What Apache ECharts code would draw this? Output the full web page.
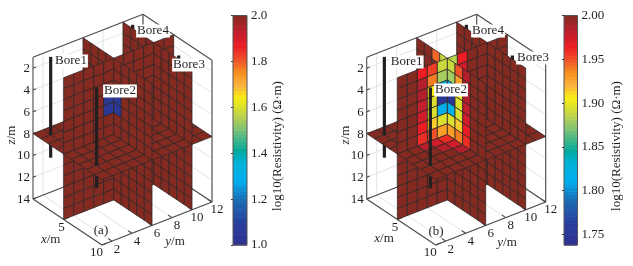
<!DOCTYPE html>
<html><head><meta charset="utf-8">
<style>html,body{margin:0;padding:0;background:#fff}#c{width:633px;height:266px}</style>
<script src="https://cdn.jsdelivr.net/npm/echarts@6/dist/echarts.min.js"></script>
</head><body><div id="c"></div>
<script>
// ---------- data ----------
const zTicks = [2,4,6,8,10,12,14];
const xTicks = [5,10];
const yTicks = [2,4,6,8,10,12];
const xRange = [1,10], yRange = [1,12], zRange = [1,14];
const sliceX = [5], sliceY = [6,10], sliceZ = [8];
const background = 2.0;
const boreNames = ['Bore1','Bore2','Bore3','Bore4'];
const boreXY = [[2,2],[8,2],[8,10.2],[2,10.2]];
const boreDepth = [0.85,10.1];
// anomaly cells: [cell along wall, depth row, log10 resistivity]
const aWallX5 = [[5,4,1.05],[5,5,1.05]];
const aWallY6 = [[5,4,1.05],[5,5,1.05]];
const aPlaneZ8 = [];
const bWallX5 = [[6,1,1.885],[7,1,1.965],[6,2,1.9],[7,2,1.975],
  [5,1,1.89],[5,2,1.88],[5,3,1.82],[5,4,1.75],[5,5,1.82],[5,6,1.895],[5,7,1.93],
  [4,1,1.955],[4,2,1.94],[4,3,1.905],[4,4,1.895],[4,5,1.895],[4,6,1.915],[4,7,1.95],
  [3,1,1.965],[3,2,1.985],[3,3,1.985],[3,4,1.98],[3,5,1.975],[3,6,1.965],[3,7,1.96]];
const bWallY6 = [[4,1,1.89],[3,1,1.945],[4,2,1.9],
  [5,1,1.89],[5,2,1.88],[5,3,1.82],[5,4,1.75],[5,5,1.82],[5,6,1.895],[5,7,1.93],
  [6,1,1.95],[6,2,1.93],[6,3,1.905],[6,4,1.895],[6,5,1.895],[6,6,1.915],[6,7,1.94],
  [7,1,1.985],[7,2,1.985],[7,3,1.985],[7,4,1.98],[7,5,1.975],[7,6,1.965],[7,7,1.96]];
const bPlaneZ8 = [[5,5,1.96],[4,5,1.975],[5,4,1.975],[6,5,1.975],[5,3,1.985],[6,4,1.985],[3,5,1.985],[7,5,1.985],[4,4,1.985]];
const aColorbarTicks = [1.0,1.2,1.4,1.6,1.8,2.0];
const bColorbarTicks = [1.75,1.80,1.85,1.90,1.95,2.00];
const aColorRange = [1.0,2.0];
const bColorRange = [1.738,2.0];

// ---------- style & layout ----------
const FONT = '"Liberation Serif","Times New Roman",serif';
const FS = 13;
const stops = [[0,'#2e3192'],[.1,'#283f9e'],[.2,'#1c6fb6'],[.28,'#00aeef'],[.36,'#00b1d8'],[.41,'#00a99d'],
 [.49,'#6abd7c'],[.55,'#aecf5a'],[.6,'#dbe02c'],[.645,'#f9ec14'],[.7,'#fbb040'],[.75,'#f7941d'],[.8,'#f15a29'],
 [.866,'#ed1c24'],[.93,'#be1e2d'],[1,'#842a20']];
function rgb(h){return [1,3,5].map(i=>parseInt(h.substr(i,2),16));}
function cmap(t){t=Math.max(0,Math.min(1,t));
  for(let i=1;i<stops.length;i++){ if(t<=stops[i][0]){const a=stops[i-1],b=stops[i],f=(t-a[0])/(b[0]-a[0]);
    const A=rgb(a[1]),B=rgb(b[1]);return 'rgb('+A.map((v,k)=>Math.round(v+(B[k]-v)*f)).join(',')+')';}}
  return stops[stops.length-1][1];}
const EX=[69/9,46/9],EY=[110/11,-43/11],EZ=[0,10.9];
const panels=[
 {origin:[33,199],range:aColorRange,x5:aWallX5,y6:aWallY6,z8:aPlaneZ8,
  bore:[[71,61],[120,91],[189,65],[153,31]],tag:['(a)',101,231],zName:[11.5,135],xName:[50.7,240],yName:[175,242]},
 {origin:[366.7,199],range:bColorRange,x5:bWallX5,y6:bWallY6,z8:bPlaneZ8,
  bore:[[406.7,62],[451,90],[533,58],[488,31]],tag:['(b)',436,232],zName:[346,135],xName:[384,239],yName:[507,243]}];
function proj(p,x,y,z){return [p.origin[0]+(x-1)*EX[0]+(y-1)*EY[0]+(z-14)*EZ[0],
                               p.origin[1]+(x-1)*EX[1]+(y-1)*EY[1]+(z-14)*EZ[1]];}
function lookup(list,a,b){const h=list.find(c=>c[0]===a&&c[1]===b);return h?h[2]:background;}
function digit(v,c,frontIsGreater){return v===c?1:((v>c)===frontIsGreater?2:0);}
function sortKey(x,y,z){return ''+digit(x,sliceX[0],true)+digit(z,sliceZ[0],false)+digit(y,sliceY[0],false)+digit(y,sliceY[1],false);}

function buildItems(p){
  const under=[],solid=[],over=[];
  const [x0,x1]=xRange,[y0,y1]=yRange,[z0,z1]=zRange;
  const grid=(a,b)=>under.push({t:'line',a,b,c:'#e4e4e4',w:1});
  zTicks.forEach(z=>{grid([x0,y0,z],[x0,y1,z]);grid([x0,y1,z],[x1,y1,z]);});
  xTicks.forEach(x=>{grid([x,y0,z1],[x,y1,z1]);grid([x,y1,z1],[x,y1,z0]);});
  yTicks.forEach(y=>{grid([x0,y,z1],[x1,y,z1]);grid([x0,y,z1],[x0,y,z0]);});
  const box=(a,b)=>under.push({t:'line',a,b,c:'#4a4a4a',w:1.1});
  box([x0,y0,z1],[x1,y0,z1]);box([x1,y0,z1],[x1,y1,z1]);box([x0,y0,z1],[x0,y1,z1]);box([x0,y1,z1],[x1,y1,z1]);
  box([x0,y0,z0],[x0,y1,z0]);box([x0,y1,z0],[x1,y1,z0]);box([x0,y0,z0],[x0,y0,z1]);box([x1,y1,z0],[x1,y1,z1]);box([x0,y1,z0],[x0,y1,z1]);
  zTicks.forEach(z=>box([x0,y0,z],[x0,y0+.3,z]));
  xTicks.forEach(x=>box([x,y0,z1],[x,y0+.5,z1]));
  yTicks.forEach(y=>box([x1,y,z1],[x1-.5,y,z1]));
  // walls
  const cell=(corners,c,v)=>solid.push({t:'cell',corners,v,key:sortKey(c[0],c[1],c[2])});
  for(let y=y0;y<y1;y++)for(let z=z0;z<z1;z++)
    cell([[5,y,z],[5,y+1,z],[5,y+1,z+1],[5,y,z+1]],[5,y+.5,z+.5],lookup(p.x5,y,z));
  for(let x=x0;x<x1;x++)for(let z=z0;z<z1;z++){
    cell([[x,6,z],[x+1,6,z],[x+1,6,z+1],[x,6,z+1]],[x+.5,6,z+.5],lookup(p.y6,x,z));
    cell([[x,10,z],[x+1,10,z],[x+1,10,z+1],[x,10,z+1]],[x+.5,10,z+.5],background);
  }
  for(let x=x0;x<x1;x++)for(let y=y0;y<y1;y++)
    cell([[x,y,8],[x+1,y,8],[x+1,y+1,8],[x,y+1,8]],[x+.5,y+.5,8],lookup(p.z8,x,y));
  // bores (split where they pass the z-slice)
  boreXY.forEach(([x,y])=>{
    solid.push({t:'bore',a:[x,y,boreDepth[0]],b:[x,y,8],key:sortKey(x,y,4)});
    solid.push({t:'bore',a:[x,y,8],b:[x,y,boreDepth[1]],key:sortKey(x,y,9)});
  });
  solid.sort((a,b)=>a.key<b.key?-1:a.key>b.key?1:0);
  // text
  zTicks.forEach(z=>{const q=proj(p,x0,y0,z);over.push({t:'text',s:String(z),px:[q[0]-3,q[1]+.5],align:'right'});});
  xTicks.forEach(x=>{const q=proj(p,x,y0,z1);over.push({t:'text',s:String(x),px:[q[0]+1,q[1]+8],align:'right'});});
  yTicks.forEach(y=>{const q=proj(p,x1,y,z1);over.push({t:'text',s:String(y),px:[q[0]+5,q[1]+8],align:'center'});});
  boreNames.forEach((s,i)=>over.push({t:'text',s,px:p.bore[i],align:'center',bg:true}));
  over.push({t:'text',s:p.tag[0],px:[p.tag[1],p.tag[2]],align:'center'});
  over.push({t:'axisName',s:'x',px:p.xName});
  over.push({t:'axisName',s:'y',px:p.yName});
  over.push({t:'axisName',s:'z',px:p.zName,rot:true});
  return under.concat(solid,over);
}

function panelSeries(p){
  const items=buildItems(p);
  return {type:'custom',coordinateSystem:'cartesian2d',xAxisIndex:0,yAxisIndex:0,clip:false,silent:true,animation:false,progressive:0,
    data:items.map((_,i)=>[i,0]),encode:{x:0,y:1},
    renderItem(params,api){
      const it=items[api.value(0)];
      const C=(q)=>api.coord(q);
      const P=(q)=>C(proj(p,q[0],q[1],q[2]));
      if(it.t==='cell'){
        return {type:'polygon',shape:{points:it.corners.map(P)},
          style:{fill:cmap((it.v-p.range[0])/(p.range[1]-p.range[0])),stroke:'#33282a',lineWidth:.8}};
      }
      if(it.t==='line'){const a=P(it.a),b=P(it.b);
        return {type:'line',shape:{x1:a[0],y1:a[1],x2:b[0],y2:b[1]},style:{stroke:it.c,lineWidth:it.w}};}
      if(it.t==='bore'){const a=P(it.a),b=P(it.b);
        return {type:'line',shape:{x1:a[0],y1:a[1],x2:b[0],y2:b[1]},style:{stroke:'#231f20',lineWidth:3.2}};}
      const xy=C(it.px);
      if(it.t==='axisName'){
        return {type:'text',x:xy[0],y:xy[1],rotation:it.rot?Math.PI/2:0,
          style:{text:'{i|'+it.s+'}{n|/m}',textAlign:'center',textVerticalAlign:'middle',fill:'#231f20',
            rich:{i:{font:'italic '+FS+'px '+FONT,fill:'#231f20'},n:{font:FS+'px '+FONT,fill:'#231f20'}}}};
      }
      const st={text:it.s,font:FS+'px '+FONT,fill:'#231f20',textAlign:it.align,textVerticalAlign:'middle'};
      if(it.bg){st.backgroundColor='#fff';st.padding=[0,1,0,1];}
      return {type:'text',x:xy[0],y:xy[1],style:st};
    }};
}

function colorbarSeries(idx,p){
  const n=64,[lo,hi]=p.range,band=[];
  for(let i=0;i<n;i++)band.push([i,lo+(hi-lo)*i/n,lo+(hi-lo)*(i+1)/n]);
  return {type:'custom',coordinateSystem:'cartesian2d',xAxisIndex:idx,yAxisIndex:idx,silent:true,animation:false,clip:false,progressive:0,
    data:band,encode:{x:0,y:[1,2]},
    renderItem(params,api){
      const a=api.coord([0,api.value(1)]),b=api.coord([1,api.value(2)]);
      return {type:'rect',shape:{x:a[0],y:b[1],width:b[0]-a[0],height:a[1]-b[1]+.6},
        style:{fill:cmap((api.value(0)+.5)/n)}};
    }};
}
const ttl='log10(Resistivity) (Ω·m)';
function cbGrid(left,w){return {left,top:15.5,width:w,height:229.5,show:true,borderColor:'#555',borderWidth:1,backgroundColor:'transparent',z:5};}
const cbY=(range,ticks,dec)=>({type:'value',min:range[0],max:range[1],position:'right',
  splitLine:{show:false},axisLine:{show:false},
  axisTick:{show:true,inside:true,length:2,lineStyle:{color:'#333'},customValues:ticks},
  axisLabel:{margin:4,color:'#231f20',fontFamily:FONT,fontSize:FS,customValues:ticks,formatter:v=>Number(v).toFixed(dec)}});
const chart=echarts.init(document.getElementById('c'),null,{renderer:'canvas',width:633,height:266});
chart.setOption({
  backgroundColor:'#fff',animation:false,
  grid:[{left:0,top:0,width:633,height:266,show:false},cbGrid(233,14),cbGrid(564,13.5)],
  xAxis:[{type:'value',min:0,max:633,show:false,gridIndex:0},
         {type:'value',min:0,max:1,show:false,gridIndex:1},
         {type:'value',min:0,max:1,show:false,gridIndex:2}],
  yAxis:[{type:'value',min:0,max:266,inverse:true,show:false,gridIndex:0},
         Object.assign(cbY(aColorRange,aColorbarTicks,1),{gridIndex:1}),
         Object.assign(cbY(bColorRange,bColorbarTicks,2),{gridIndex:2})],
  series:[panelSeries(panels[0]),panelSeries(panels[1]),colorbarSeries(1,panels[0]),colorbarSeries(2,panels[1])],
  graphic:[
    {type:'text',x:278,y:146,rotation:Math.PI/2,style:{text:ttl,font:FS+'px '+FONT,fill:'#231f20',textAlign:'center',textVerticalAlign:'middle'},z:20},
    {type:'text',x:617,y:146,rotation:Math.PI/2,style:{text:ttl,font:FS+'px '+FONT,fill:'#231f20',textAlign:'center',textVerticalAlign:'middle'},z:20}
  ]
});
</script></body></html>
